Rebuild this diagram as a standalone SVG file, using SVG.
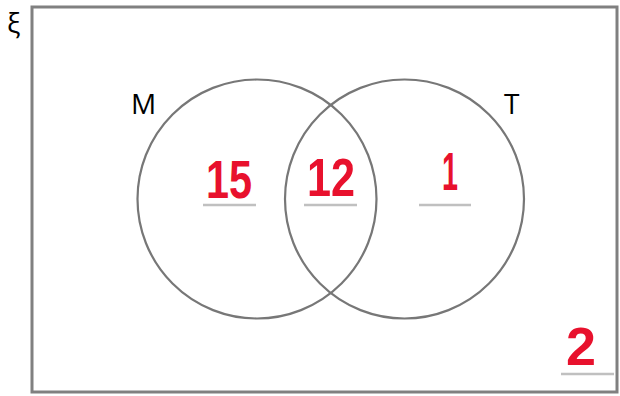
<svg xmlns="http://www.w3.org/2000/svg" width="620" height="396" viewBox="0 0 620 396">
<style>
.lbl{font-family:"Open Sans","Liberation Sans",sans-serif;font-size:28px;fill:#000}
.num{font-family:"Liberation Sans",sans-serif;font-size:54px;fill:#e8112d;font-weight:bold;text-anchor:middle}
.ul{stroke:#c0c0c0;stroke-width:2.5}
.set{fill:none;stroke:#777;stroke-width:2.2}
</style>
<rect width="620" height="396" fill="#fff"/>
<g id="universe">
<rect x="32" y="7" width="585" height="385" fill="none" stroke="#808080" stroke-width="3"/>
<text class="lbl" x="7" y="33">ξ</text>
</g>
<g id="setM">
<circle class="set" cx="257" cy="199" r="119.5"/>
<text class="lbl" x="131" y="114">M</text>
</g>
<g id="setT">
<circle class="set" cx="404.5" cy="199" r="119.5"/>
<text class="lbl" x="504" y="114">T</text>
</g>
<g id="onlyM">
<text class="num" x="229" y="198" textLength="46" lengthAdjust="spacingAndGlyphs">15</text>
<line class="ul" x1="203" y1="205" x2="256" y2="205"/>
</g>
<g id="both">
<text class="num" x="331" y="196" textLength="48" lengthAdjust="spacingAndGlyphs">12</text>
<line class="ul" x1="304" y1="205" x2="357" y2="205"/>
</g>
<g id="onlyT">
<text class="num" x="450" y="190" textLength="16" lengthAdjust="spacingAndGlyphs">1</text>
<line class="ul" x1="419" y1="205" x2="471" y2="205"/>
</g>
<g id="neither">
<text class="num" x="581" y="365" textLength="30" lengthAdjust="spacingAndGlyphs">2</text>
<line class="ul" x1="561" y1="374" x2="614" y2="374"/>
</g>
<g id="connectors"/>
</svg>
